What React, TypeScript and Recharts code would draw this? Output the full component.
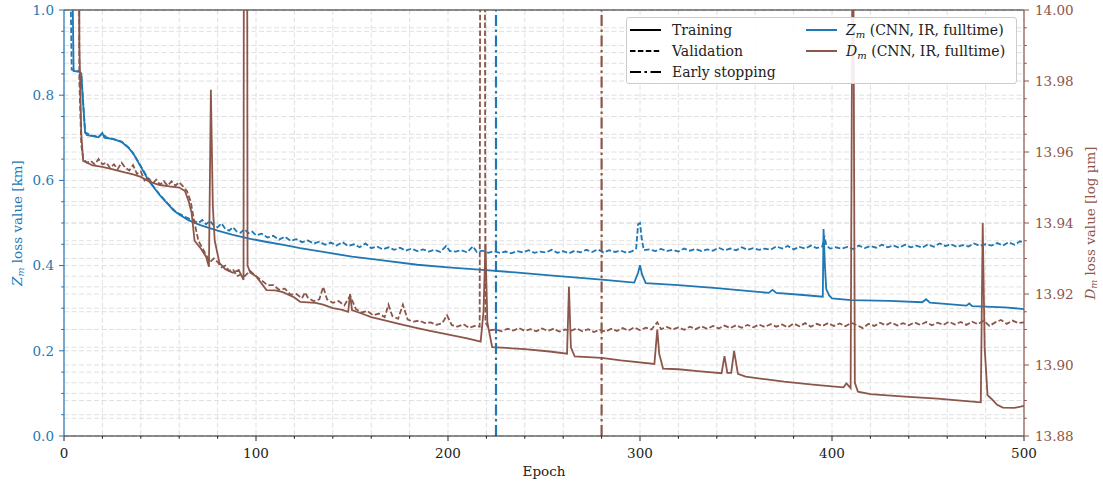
import React from "react";
import { LineChart, Line, XAxis, YAxis, CartesianGrid, ReferenceLine } from "recharts";

const BLUE = "#1f77b4";
const BROWN = "#8c564b";
const FONT = "'DejaVu Serif', 'Liberation Serif', serif";
const GRID = "#e0e0e0";

// [epoch, loss] pairs
const zTraining: [number, number][] = [
  [4, 1.2], [5, 0.857], [8, 0.855], [9, 0.85], [10, 0.78], [11, 0.712], [12, 0.706], [15, 0.704],
  [18, 0.701], [20, 0.711], [21, 0.7], [24, 0.698], [27, 0.695], [30, 0.69], [33, 0.679], [36, 0.664],
  [38, 0.648], [41, 0.624], [44, 0.6], [47, 0.582], [50, 0.565], [54, 0.545], [57, 0.53], [60, 0.52],
  [65, 0.506], [71, 0.495], [80, 0.482], [88, 0.472], [97, 0.463], [105, 0.456], [115, 0.448],
  [123, 0.441], [135, 0.432], [150, 0.421], [165, 0.413], [184, 0.402], [200, 0.396], [218, 0.39],
  [235, 0.384], [253, 0.377], [280, 0.367], [297, 0.36], [299, 0.383], [300, 0.401], [301, 0.38],
  [303, 0.359], [320, 0.354], [340, 0.347], [360, 0.339], [367, 0.336], [369, 0.343], [371, 0.336],
  [385, 0.331], [395.2, 0.327], [395.6, 0.486], [396.3, 0.4], [397, 0.345], [398.5, 0.33], [400, 0.323],
  [410, 0.319], [430, 0.317], [447, 0.314], [449, 0.321], [451, 0.313], [470, 0.306], [471.5, 0.311],
  [473, 0.305], [490, 0.302], [500, 0.298],
];

const zValidation: [number, number][] = [
  [3, 1.2], [4, 0.86], [8, 0.856], [9, 0.85], [10, 0.78], [11, 0.713], [14, 0.706], [18, 0.702],
  [20, 0.711], [22, 0.701], [26, 0.697], [30, 0.691], [34, 0.676], [38, 0.649], [42, 0.618], [46, 0.589],
  [50, 0.566], [54, 0.546], [58, 0.527], [62, 0.517], [66, 0.508], [70, 0.5], [72, 0.507], [74, 0.497],
  [76, 0.505], [78, 0.494], [80, 0.49], [82, 0.499], [84, 0.486], [86, 0.482], [88, 0.49], [90, 0.48],
  [92, 0.477], [94, 0.486], [96, 0.476], [98, 0.48], [100, 0.471], [103, 0.475], [106, 0.466],
  [109, 0.47], [112, 0.461], [115, 0.468], [118, 0.458], [121, 0.462], [124, 0.455], [127, 0.459],
  [130, 0.452], [133, 0.456], [136, 0.449], [139, 0.454], [142, 0.447], [145, 0.455], [148, 0.446],
  [151, 0.45], [154, 0.443], [157, 0.452], [160, 0.441], [163, 0.445], [166, 0.438], [169, 0.443],
  [172, 0.437], [175, 0.442], [178, 0.435], [181, 0.44], [184, 0.434], [187, 0.438], [190, 0.433],
  [193, 0.437], [196, 0.432], [199, 0.446], [201, 0.434], [204, 0.433], [207, 0.436], [210, 0.431],
  [213, 0.445], [215, 0.432], [218, 0.435], [221, 0.43], [224, 0.434], [227, 0.43], [230, 0.433],
  [233, 0.429], [236, 0.434], [239, 0.431], [242, 0.436], [245, 0.43], [248, 0.433], [251, 0.431],
  [254, 0.437], [257, 0.43], [260, 0.434], [263, 0.429], [266, 0.435], [269, 0.431], [272, 0.437],
  [275, 0.432], [278, 0.438], [281, 0.431], [284, 0.436], [287, 0.432], [290, 0.435], [293, 0.43],
  [296, 0.434], [298, 0.44], [299, 0.497], [300, 0.5], [301, 0.46], [302, 0.436], [305, 0.438],
  [308, 0.434], [311, 0.439], [314, 0.434], [317, 0.437], [320, 0.433], [323, 0.44], [326, 0.435],
  [329, 0.439], [332, 0.434], [335, 0.438], [338, 0.435], [341, 0.442], [344, 0.436], [347, 0.44],
  [350, 0.436], [353, 0.443], [356, 0.437], [359, 0.441], [362, 0.437], [365, 0.44], [368, 0.437],
  [371, 0.445], [374, 0.44], [377, 0.446], [380, 0.438], [383, 0.444], [386, 0.44], [389, 0.447],
  [392, 0.441], [395, 0.445], [396, 0.47], [397, 0.448], [399, 0.44], [402, 0.443], [405, 0.44],
  [408, 0.444], [411, 0.439], [414, 0.447], [417, 0.441], [420, 0.446], [423, 0.442], [426, 0.449],
  [429, 0.443], [432, 0.447], [435, 0.442], [438, 0.449], [441, 0.443], [444, 0.447], [447, 0.442],
  [450, 0.45], [453, 0.444], [456, 0.452], [459, 0.446], [462, 0.45], [465, 0.444], [468, 0.448],
  [471, 0.445], [474, 0.452], [477, 0.446], [480, 0.45], [483, 0.447], [486, 0.453], [489, 0.447],
  [492, 0.455], [495, 0.449], [498, 0.457], [500, 0.454],
];

const dTraining: [number, number][] = [
  [7, 14.2], [8, 13.99], [9, 13.965], [10, 13.9575], [15, 13.9562], [20, 13.9558], [25, 13.9552],
  [30, 13.9545], [36, 13.9537], [40, 13.953], [45, 13.9515], [50, 13.9507], [55, 13.9503],
  [60, 13.95], [63, 13.949], [65, 13.946], [66.5, 13.9428], [68, 13.935], [71, 13.933],
  [74, 13.9305], [75.5, 13.9277], [76.5, 13.9775], [77.5, 13.945], [78.5, 13.935], [81, 13.9287],
  [84, 13.927], [88, 13.926], [91, 13.9268], [93.5, 13.924], [94, 14.2], [95, 14.2], [95.6, 13.928],
  [97, 13.926], [100, 13.925], [105.5, 13.9211], [110, 13.921], [114, 13.9205], [120, 13.919],
  [123, 13.9178], [131, 13.9175], [135, 13.917], [140, 13.916], [145, 13.9155], [148, 13.915],
  [149, 13.92], [150, 13.9155], [155, 13.9145], [160, 13.9135], [166, 13.9127], [175, 13.9115],
  [184, 13.9104], [190, 13.9097], [201, 13.9085], [210, 13.9075], [217, 13.9066], [218.5, 13.915],
  [219.5, 13.934], [220.5, 13.912], [223, 13.905], [230, 13.9048], [240, 13.9045], [253, 13.9038],
  [262, 13.9032], [263, 13.922], [264, 13.905], [266, 13.9024], [280, 13.902], [290, 13.9013],
  [307.5, 13.9003], [309, 13.91], [310, 13.9032], [312, 13.899], [320, 13.8988], [330, 13.8983],
  [342.5, 13.8977], [344, 13.9025], [345.5, 13.8978], [347.5, 13.8978], [349, 13.904], [351, 13.8975],
  [355, 13.8967], [365, 13.896], [375, 13.8953], [390, 13.8945], [400, 13.894], [406, 13.8937],
  [407.5, 13.8948], [409.7, 13.8935], [410.9, 14.05], [411.9, 13.895], [413.5, 13.8925],
  [420, 13.8918], [427, 13.8915], [440, 13.891], [455, 13.8905], [470, 13.8898], [477.5, 13.8895],
  [478.5, 13.94], [479.5, 13.905], [481, 13.8915], [483, 13.8905], [486, 13.8888], [489, 13.888],
  [495, 13.8879], [500, 13.8885],
];

const dValidation: [number, number][] = [
  [7, 14.2], [8, 13.98], [9, 13.962], [10, 13.958], [12, 13.957], [14, 13.9575], [16, 13.9565],
  [18, 13.958], [20, 13.9565], [22, 13.957], [24, 13.9555], [26, 13.9565], [28, 13.9552],
  [30, 13.957], [32, 13.9555], [34, 13.9548], [36, 13.9563], [38, 13.9538], [40, 13.9545],
  [42, 13.952], [44, 13.9528], [46, 13.951], [48, 13.9522], [50, 13.9508], [52, 13.9518],
  [54, 13.9505], [56, 13.9517], [58, 13.9505], [60, 13.9515], [62, 13.9503], [64, 13.949],
  [66, 13.946], [68, 13.94], [70, 13.935], [72, 13.933], [74, 13.931], [76, 13.929], [78, 13.93],
  [80, 13.929], [82, 13.9275], [84, 13.928], [86, 13.9265], [88, 13.927], [90, 13.925],
  [92, 13.9255], [94, 13.925], [97, 13.9265], [100, 13.925], [103, 13.9238], [106, 13.9225],
  [109, 13.9225], [112, 13.9212], [115, 13.9215], [118, 13.9198], [121, 13.92], [124, 13.9188],
  [125.5, 13.9205], [127, 13.919], [130, 13.918], [133, 13.9185], [135, 13.922], [137, 13.9185],
  [140, 13.9175], [143, 13.918], [146, 13.9168], [149, 13.9195], [152, 13.9158], [155, 13.9148],
  [158, 13.9152], [161, 13.914], [164, 13.9145], [167, 13.9135], [169, 13.917], [171, 13.9138],
  [174, 13.913], [176.5, 13.917], [179, 13.9128], [182, 13.9122], [185, 13.9125], [188, 13.9118],
  [191, 13.912], [194, 13.9113], [197, 13.9118], [199.5, 13.914], [202, 13.9112], [205, 13.9108],
  [208, 13.9115], [211, 13.9105], [214, 13.911], [216.5, 13.9108], [217.2, 14.2], [218.7, 14.2],
  [219.5, 13.912], [222, 13.9098], [225, 13.91], [228, 13.9095], [231, 13.9102], [234, 13.9097],
  [237, 13.9104], [240, 13.9096], [243, 13.9101], [246, 13.9095], [249, 13.9103], [252, 13.9096],
  [255, 13.9102], [258, 13.9094], [261, 13.91], [264, 13.9096], [267, 13.9103], [270, 13.9095],
  [273, 13.9101], [276, 13.9093], [279, 13.9099], [282, 13.9094], [285, 13.9102], [288, 13.9096],
  [291, 13.9104], [294, 13.9097], [297, 13.9106], [300, 13.9098], [303, 13.9105], [306, 13.91],
  [309, 13.912], [311, 13.9101], [314, 13.9107], [317, 13.91], [320, 13.9106], [323, 13.9099],
  [326, 13.9108], [329, 13.9101], [332, 13.9109], [335, 13.9102], [338, 13.911], [341, 13.9103],
  [344, 13.9111], [347, 13.9104], [350, 13.9112], [353, 13.9105], [356, 13.9113], [359, 13.9106],
  [362, 13.9114], [365, 13.9107], [368, 13.9115], [371, 13.9108], [374, 13.9114], [377, 13.9106],
  [380, 13.9117], [383, 13.9109], [386, 13.9118], [389, 13.9108], [392, 13.9116], [395, 13.911],
  [398, 13.9118], [401, 13.911], [404, 13.9117], [407, 13.9109], [410, 13.9119], [413, 13.9112],
  [416, 13.9104], [419, 13.9116], [422, 13.911], [425, 13.9119], [428, 13.9112], [431, 13.912],
  [434, 13.9111], [437, 13.9118], [440, 13.9112], [443, 13.912], [446, 13.9113], [449, 13.9121],
  [452, 13.9112], [455, 13.9119], [458, 13.9113], [461, 13.9122], [464, 13.9114], [467, 13.9121],
  [470, 13.9113], [473, 13.9122], [476, 13.9115], [479, 13.9125], [482, 13.911], [485, 13.912],
  [488, 13.9127], [491, 13.9116], [494, 13.9125], [497, 13.9118], [500, 13.912],
];

const zEarlyStop = 225;
const dEarlyStop = 280;

const xTicks = [0, 20, 40, 60, 80, 100, 120, 140, 160, 180, 200, 220, 240, 260, 280, 300, 320, 340, 360, 380, 400, 420, 440, 460, 480, 500];
const xLabels = [0, 100, 200, 300, 400, 500];
const zTicks = [0, 0.05, 0.1, 0.15, 0.2, 0.25, 0.3, 0.35, 0.4, 0.45, 0.5, 0.55, 0.6, 0.65, 0.7, 0.75, 0.8, 0.85, 0.9, 0.95, 1.0];
const zLabels = [0, 0.2, 0.4, 0.6, 0.8, 1.0];
const dTicks = [13.88, 13.885, 13.89, 13.895, 13.9, 13.905, 13.91, 13.915, 13.92, 13.925, 13.93, 13.935, 13.94, 13.945, 13.95, 13.955, 13.96, 13.965, 13.97, 13.975, 13.98, 13.985, 13.99, 13.995, 14.0];
const dLabels = [13.88, 13.9, 13.92, 13.94, 13.96, 13.98, 14.0];

const toPoints = (pairs: [number, number][]) => pairs.map(([epoch, value]) => ({ epoch, value }));
const isIn = (list: number[], v: number) => list.some((t) => Math.abs(t - v) < 1e-6);

const TICK_FONT = 13.5;

const BottomTick = (props: any) => {
  const { x, y, payload } = props;
  const major = isIn(xLabels, payload.value);
  return (
    <g>
      <line x1={x} x2={x} y1={y} y2={y + (major ? 5 : 2.8)} stroke="#222" strokeWidth={1} />
      {major && (
        <text x={x} y={y + 21.5} textAnchor="middle" fill="#222" fontSize={TICK_FONT} fontFamily={FONT}>
          {payload.value}
        </text>
      )}
    </g>
  );
};

const LeftTick = (props: any) => {
  const { x, y, payload } = props;
  const major = isIn(zLabels, payload.value);
  return (
    <g>
      <line x1={x} x2={x - (major ? 5 : 2.8)} y1={y} y2={y} stroke={BLUE} strokeWidth={1} />
      {major && (
        <text x={x - 10} y={y} dy="0.36em" textAnchor="end" fill={BLUE} fontSize={TICK_FONT} fontFamily={FONT}>
          {payload.value.toFixed(1)}
        </text>
      )}
    </g>
  );
};

const RightTick = (props: any) => {
  const { x, y, payload } = props;
  const major = isIn(dLabels, payload.value);
  return (
    <g>
      <line x1={x} x2={x + (major ? 5 : 2.8)} y1={y} y2={y} stroke={BROWN} strokeWidth={1} />
      {major && (
        <text x={x + 11} y={y} dy="0.36em" textAnchor="start" fill={BROWN} fontSize={TICK_FONT} fontFamily={FONT}>
          {payload.value.toFixed(2)}
        </text>
      )}
    </g>
  );
};

const LeftTitle = (props: any) => {
  const { viewBox } = props;
  const cx = viewBox.x + 17;
  const cy = viewBox.y + viewBox.height / 2;
  return (
    <text x={cx} y={cy} transform={`rotate(-90 ${cx} ${cy})`} textAnchor="middle" dominantBaseline="central" fill={BLUE} fontSize={13.5} fontFamily={FONT}>
      <tspan fontStyle="italic">Z</tspan>
      <tspan fontStyle="italic" fontSize={9.5} dy={3}>m</tspan>
      <tspan dy={-3}> loss value [km]</tspan>
    </text>
  );
};

const RightTitle = (props: any) => {
  const { viewBox } = props;
  const cx = viewBox.x + 66;
  const cy = viewBox.y + viewBox.height / 2;
  return (
    <text x={cx} y={cy} transform={`rotate(-90 ${cx} ${cy})`} textAnchor="middle" dominantBaseline="central" fill={BROWN} fontSize={13.5} fontFamily={FONT}>
      <tspan fontStyle="italic">D</tspan>
      <tspan fontStyle="italic" fontSize={9.5} dy={3}>m</tspan>
      <tspan dy={-3}> loss value [log µm]</tspan>
    </text>
  );
};

const BottomTitle = (props: any) => {
  const { viewBox } = props;
  return (
    <text x={viewBox.x + viewBox.width / 2} y={viewBox.y + 40} textAnchor="middle" fill="#222" fontSize={13.5} fontFamily={FONT}>
      Epoch
    </text>
  );
};

const LegendBox = () => (
  <div
    style={{
      position: "absolute",
      left: 626,
      top: 17,
      width: 391,
      height: 67,
      border: "1px solid #cccccc",
      borderRadius: 3,
      background: "rgba(255,255,255,0.9)",
      boxSizing: "border-box",
    }}
  >
    <svg width={391} height={67} style={{ position: "absolute", left: -1, top: -1 }}>
      <g fontFamily={FONT} fontSize={14} fill="#222">
        <line x1={4} x2={35} y1={13} y2={13} stroke="#000" strokeWidth={2} />
        <text x={46} y={13} dy="0.36em">Training</text>
        <line x1={4} x2={35} y1={34} y2={34} stroke="#000" strokeWidth={2} strokeDasharray="5.5 2.4" />
        <text x={46} y={34} dy="0.36em">Validation</text>
        <line x1={4} x2={35} y1={55} y2={55} stroke="#000" strokeWidth={2} strokeDasharray="11 3.5 2.5 3.5" />
        <text x={46} y={55} dy="0.36em">Early stopping</text>
        <line x1={180} x2={211} y1={13} y2={13} stroke={BLUE} strokeWidth={2} />
        <text x={220} y={13} dy="0.36em">
          <tspan fontStyle="italic">Z</tspan>
          <tspan fontStyle="italic" fontSize={10} dy={3}>m</tspan>
          <tspan dy={-3}> (CNN, IR, fulltime)</tspan>
        </text>
        <line x1={180} x2={211} y1={34} y2={34} stroke={BROWN} strokeWidth={2} />
        <text x={220} y={34} dy="0.36em">
          <tspan fontStyle="italic">D</tspan>
          <tspan fontStyle="italic" fontSize={10} dy={3}>m</tspan>
          <tspan dy={-3}> (CNN, IR, fulltime)</tspan>
        </text>
      </g>
    </svg>
  </div>
);

const App = () => {
  return (
    <div style={{ position: "absolute", left: 0, top: 0, width: 1103, height: 484, background: "#fff" }}>
      <LineChart width={1103} height={484} margin={{ top: 10, right: 0, bottom: 0, left: 0 }}>
        <CartesianGrid yAxisId="z" stroke={GRID} strokeDasharray="5 2.5" horizontal vertical />
        <CartesianGrid yAxisId="d" stroke={GRID} strokeDasharray="5 2.5" horizontal vertical={false} />
        <XAxis
          dataKey="epoch"
          type="number"
          domain={[0, 500]}
          ticks={xTicks}
          interval={0}
          height={48}
          tickSize={0}
          tickMargin={0}
          tickLine={false}
          tick={<BottomTick />}
          axisLine={{ stroke: "#222", strokeWidth: 1.2 }}
          label={<BottomTitle />}
        />
        <YAxis
          yAxisId="z"
          orientation="left"
          type="number"
          domain={[0, 1]}
          allowDataOverflow
          ticks={zTicks}
          interval={0}
          width={64}
          tickSize={0}
          tickMargin={0}
          tickLine={false}
          tick={<LeftTick />}
          axisLine={{ stroke: BLUE, strokeWidth: 1.2 }}
          label={<LeftTitle />}
        />
        <YAxis
          yAxisId="d"
          orientation="right"
          type="number"
          domain={[13.88, 14.0]}
          allowDataOverflow
          ticks={dTicks}
          interval={0}
          width={79}
          tickSize={0}
          tickMargin={0}
          tickLine={false}
          tick={<RightTick />}
          axisLine={{ stroke: BROWN, strokeWidth: 1.2 }}
          label={<RightTitle />}
        />
        <ReferenceLine yAxisId="z" y={1} stroke="#222" strokeWidth={1.2} />
        <Line yAxisId="z" data={toPoints(zTraining)} dataKey="value" stroke={BLUE} strokeWidth={1.8} dot={false} activeDot={false} isAnimationActive={false} />
        <Line yAxisId="z" data={toPoints(zValidation)} dataKey="value" stroke={BLUE} strokeWidth={1.8} strokeDasharray="5.5 2.4" dot={false} activeDot={false} isAnimationActive={false} />
        <Line yAxisId="d" data={toPoints(dTraining)} dataKey="value" stroke={BROWN} strokeWidth={1.8} dot={false} activeDot={false} isAnimationActive={false} />
        <Line yAxisId="d" data={toPoints(dValidation)} dataKey="value" stroke={BROWN} strokeWidth={1.8} strokeDasharray="5.5 2.4" dot={false} activeDot={false} isAnimationActive={false} />
        <ReferenceLine yAxisId="z" x={zEarlyStop} stroke={BLUE} strokeWidth={2.2} strokeDasharray="11 3.5 2.5 3.5" />
        <ReferenceLine yAxisId="z" x={dEarlyStop} stroke={BROWN} strokeWidth={2.2} strokeDasharray="11 3.5 2.5 3.5" />
      </LineChart>
      <LegendBox />
    </div>
  );
};

export default App;
